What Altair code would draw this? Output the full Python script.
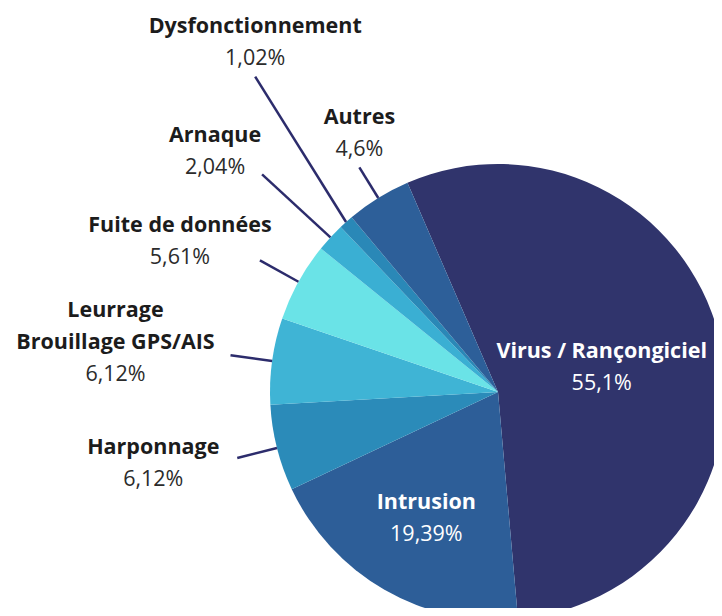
import math
import altair as alt
import pandas as pd

# ---- data ----
categories = ["Virus / Rançongiciel", "Intrusion", "Harponnage",
              "Leurrage\nBrouillage GPS/AIS", "Fuite de données", "Arnaque",
              "Dysfonctionnement", "Autres"]
values = [55.1, 19.39, 6.12, 6.12, 5.61, 2.04, 1.02, 4.6]
colors = ["#30346c", "#2d5e98", "#2b8bb9", "#3fb4d5", "#6ae3e7",
          "#3aafd3", "#2a88b7", "#2d5f99"]

# ---- layout (pixels / degrees) ----
W, H = 706, 600
CX, CY, R = 490, 384, 228
START_DEG = -23.4
LINE_H = 32
FONT = "Open Sans"
FONT_SIZE = 21.5
inside_radius = {"Virus / Rançongiciel": 107, "Intrusion": 144}
# line outer radius, angle shift of line end, label dx, label dy (relative to line end)
outside_layout = {
    "Harponnage": (269, 0, -84, 4),
    "Leurrage\nBrouillage GPS/AIS": (270, 0, -115, -14),
    "Fuite de données": (272, 0, -80, -20),
    "Arnaque": (321, 0, -47, -24),
    "Dysfonctionnement": (398, 4.2, 0, -36),
    "Autres": (264, 0, 0, -35),
}


def pct_label(v):
    return f"{v:g}".replace(".", ",") + "%"


def polar(r, deg):
    a = math.radians(deg)
    return CX + r * math.sin(a), CY - r * math.cos(a)


total = sum(values)
arc_df = pd.DataFrame({"category": categories, "value": values,
                       "idx": list(range(len(categories)))})

rows, rules = [], []
cum = 0.0
for cat, v in zip(categories, values):
    mid = START_DEG + (cum + v / 2) / total * 360
    cum += v
    lines = cat.split("\n") + [pct_label(v)]
    if cat in inside_radius:
        bx, by = polar(inside_radius[cat], mid)
        tone = "light"
    else:
        r_end, shift, dx, dy = outside_layout[cat]
        x0, y0 = polar(R, mid)
        x1, y1 = polar(r_end, mid + shift)
        rules.append({"x": x0, "y": y0, "x2": x1, "y2": y1})
        bx, by = x1 + dx, y1 + dy
        tone = "dark"
    n = len(lines)
    for i, t in enumerate(lines):
        rows.append({"text": t, "x": bx, "y": by + (i - (n - 1) / 2) * LINE_H,
                     "kind": "pct" if i == n - 1 else "title", "tone": tone})

text_df = pd.DataFrame(rows)
rule_df = pd.DataFrame(rules)

start_rad = 2 * math.pi + math.radians(START_DEG)
arcs = alt.Chart(arc_df).mark_arc(outerRadius=R).encode(
    theta=alt.Theta("value:Q", stack=True,
                    scale=alt.Scale(domain=[0, total], range=[start_rad, start_rad + 2 * math.pi])),
    color=alt.Color("category:N", scale=alt.Scale(domain=categories, range=colors), legend=None),
    order=alt.Order("idx:Q"),
    x=alt.value(CX),
    y=alt.value(CY),
)

leaders = alt.Chart(rule_df).mark_rule(color="#2c2c6c", strokeWidth=2.5).encode(
    x=alt.X("x:Q", scale=None, axis=None),
    y=alt.Y("y:Q", scale=None, axis=None),
    x2="x2:Q",
    y2="y2:Q",
)

titles = alt.Chart(text_df).transform_filter(alt.datum.kind == "title").mark_text(
    font=FONT, fontSize=FONT_SIZE, fontWeight="bold", align="center", baseline="middle", dy=2
).encode(
    x=alt.X("x:Q", scale=None, axis=None),
    y=alt.Y("y:Q", scale=None, axis=None),
    text="text:N",
    color=alt.Color("tone:N", scale=alt.Scale(domain=["dark", "light"], range=["#1c1c1c", "#ffffff"]), legend=None),
)

pcts = alt.Chart(text_df).transform_filter(alt.datum.kind == "pct").mark_text(
    font=FONT, fontSize=FONT_SIZE, fontWeight="normal", align="center", baseline="middle", dy=2
).encode(
    x=alt.X("x:Q", scale=None, axis=None),
    y=alt.Y("y:Q", scale=None, axis=None),
    text="text:N",
    color=alt.Color("tone:N", scale=alt.Scale(domain=["dark", "light"], range=["#2b2b2b", "#ffffff"]), legend=None),
)

chart = alt.layer(arcs, leaders, titles, pcts).resolve_scale(color="independent").properties(
    width=W, height=H, padding=0, autosize=alt.AutoSizeParams(type="none"),
    background="white",
).configure_view(stroke=None)

chart.save("out.html", embed_options={"renderer": "svg", "actions": False})
